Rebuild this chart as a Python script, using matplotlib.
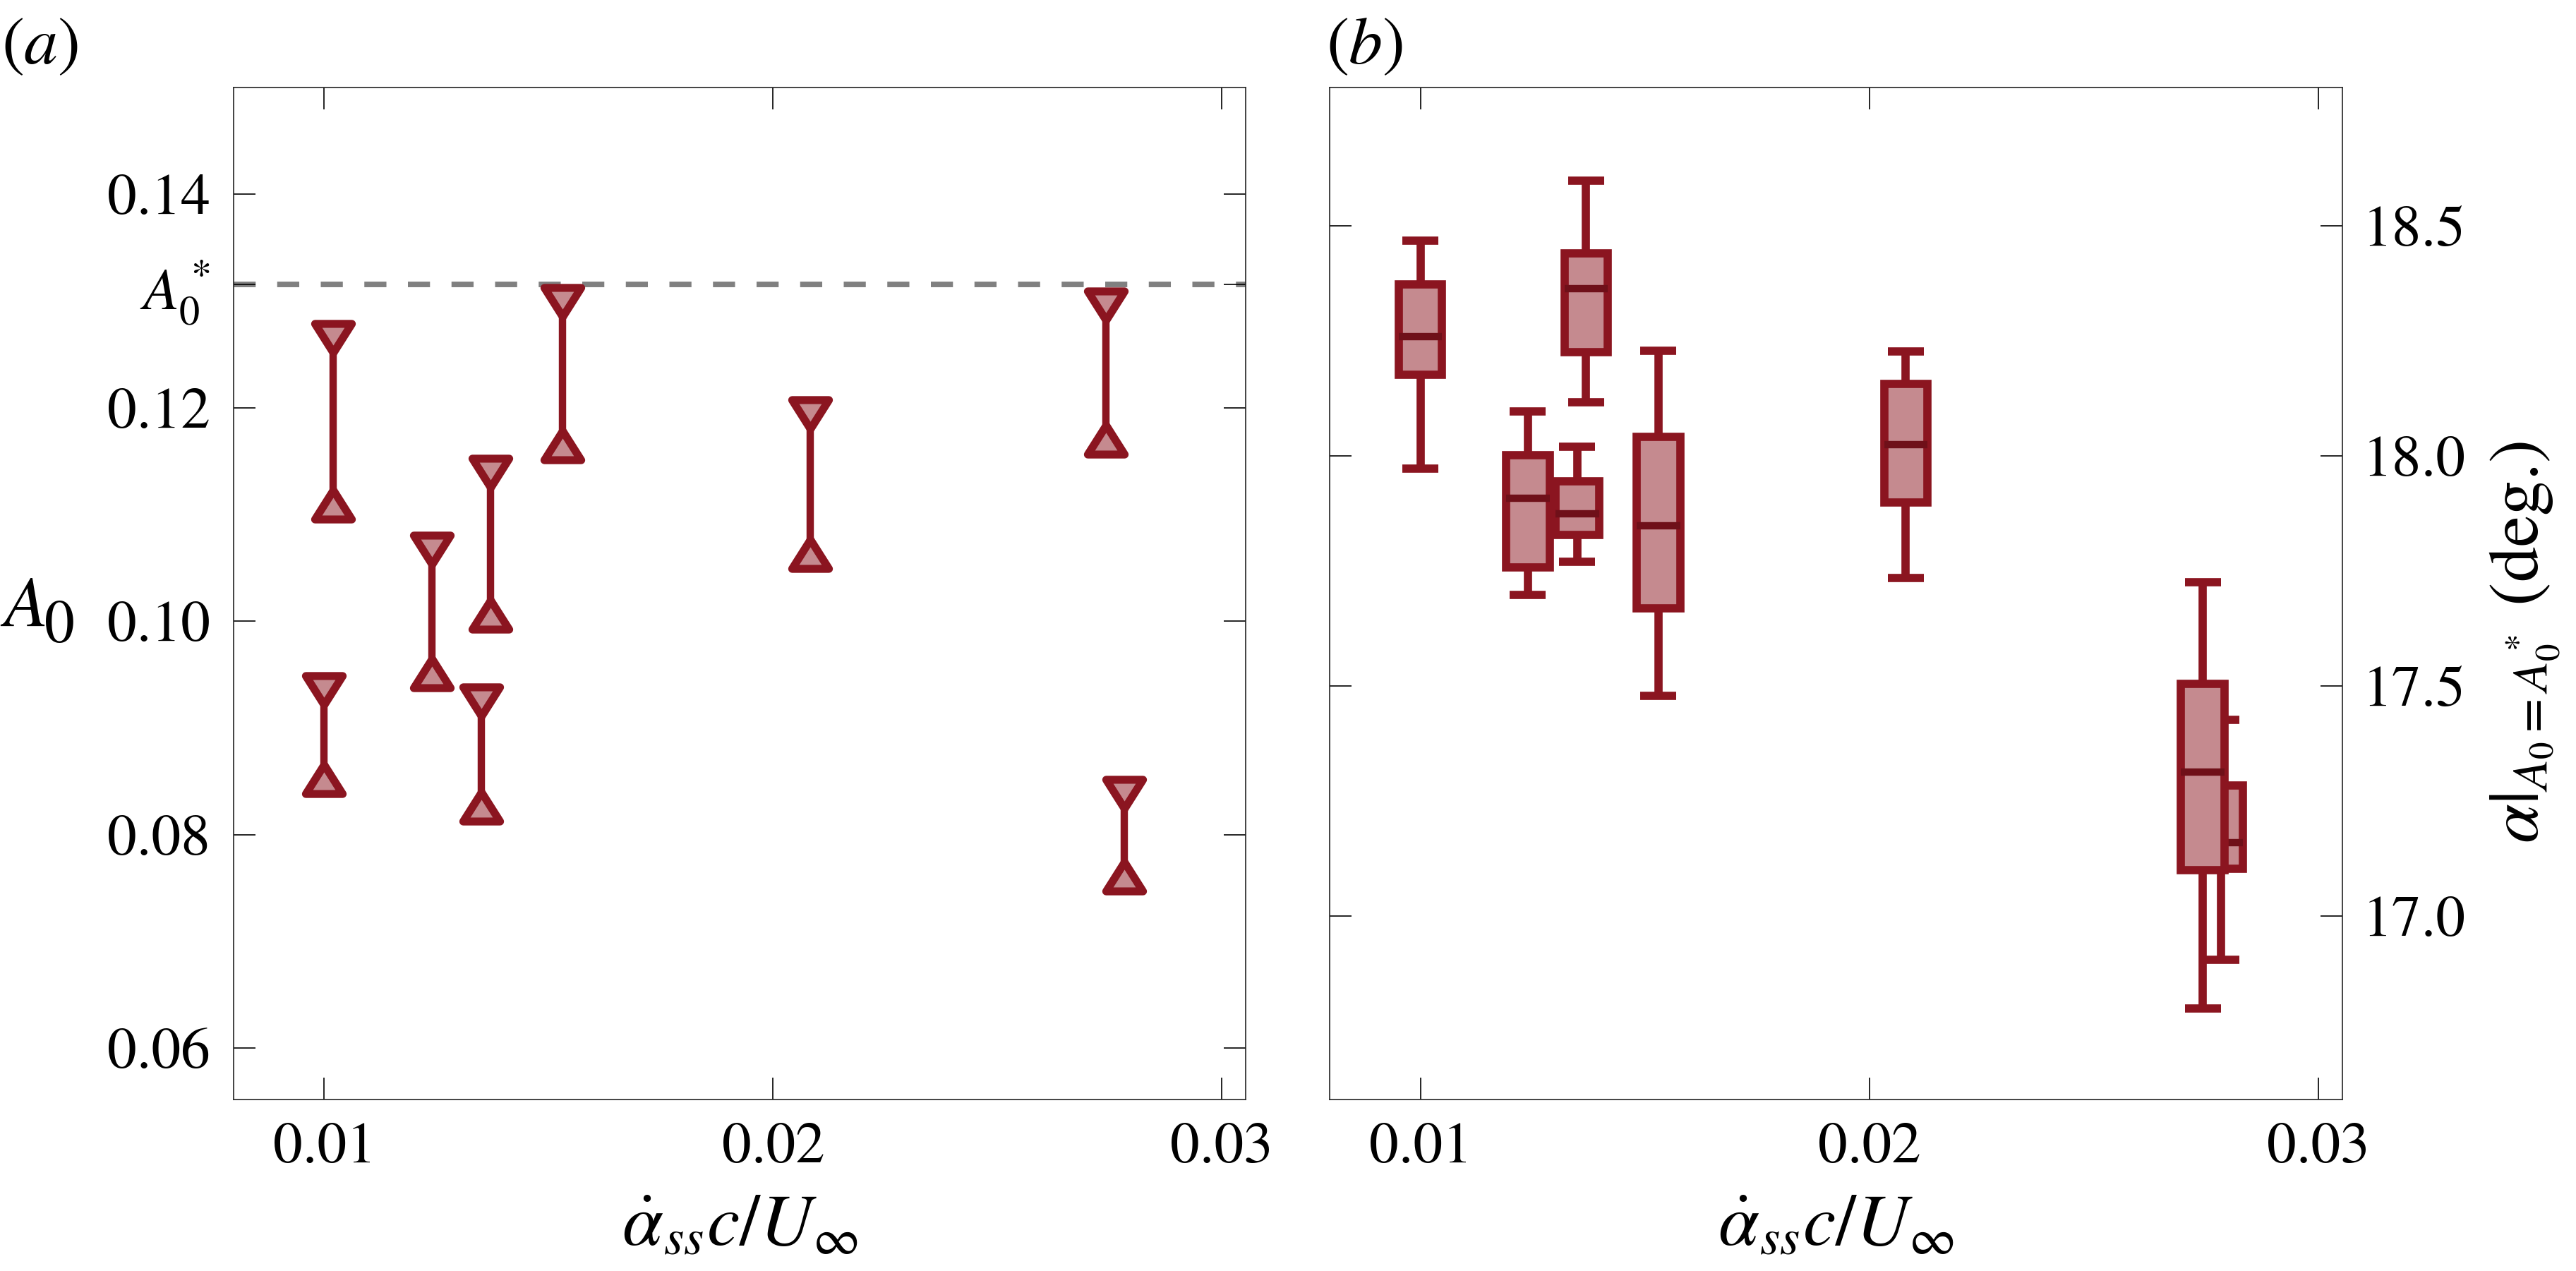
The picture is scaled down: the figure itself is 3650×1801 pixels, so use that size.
import numpy as np
import matplotlib
matplotlib.use("Agg")
import matplotlib.pyplot as plt
from matplotlib.path import Path
from matplotlib.markers import MarkerStyle

plt.rcParams['font.family'] = ['STIXGeneral', 'Liberation Serif', 'DejaVu Serif']
plt.rcParams['mathtext.fontset'] = 'stix'

# ---------------- data ----------------
# panel (a): A0 range per case
a_x = [0.01020, 0.01000, 0.01240, 0.01370, 0.01350, 0.01531, 0.02082, 0.02742, 0.02782]
a_hi = [0.1265, 0.0935, 0.1067, 0.1139, 0.0925, 0.1299, 0.1194, 0.1296, 0.0838]
a_lo = [0.1109, 0.0852, 0.0951, 0.1006, 0.0826, 0.1165, 0.1063, 0.1170, 0.0761]
A0_star = 0.13155

# panel (b): box statistics (drawing order: last box drawn on top)
b_x = [0.01000, 0.01239, 0.01349, 0.01369, 0.01530, 0.02081, 0.02783, 0.02742]
b_whislo = [17.973, 17.698, 17.770, 18.117, 17.479, 17.735, 16.904, 16.799]
b_q1 = [18.176, 17.758, 17.828, 18.225, 17.668, 17.898, 17.102, 17.100]
b_med = [18.259, 17.908, 17.874, 18.364, 17.848, 18.025, 17.160, 17.313]
b_q3 = [18.373, 18.001, 17.944, 18.440, 18.042, 18.157, 17.283, 17.505]
b_whishi = [18.468, 18.097, 18.020, 18.598, 18.229, 18.227, 17.427, 17.725]

xticks = [0.01, 0.02, 0.03]
xticklabels = ['0.01', '0.02', '0.03']
a_yticks = [0.06, 0.08, 0.10, 0.12, 0.14]
a_yticklabels = ['0.06', '0.08', '0.10', '0.12', '0.14']
b_yticks = [17.0, 17.5, 18.0, 18.5]
b_yticklabels = ['17.0', '17.5', '18.0', '18.5']

# ---------------- style ----------------
EDGE = '#8B1520'
FILL = '#C58A8F'
MED = '#6F1019'
W, H = 3650, 1801
DPI = 300
fig = plt.figure(figsize=(W / DPI, H / DPI), dpi=DPI)

def fx(px):
    return px / W

def fy(py):
    return 1 - py / H

ax_bottom, ax_top = 1558, 124
axa = fig.add_axes([fx(331), fy(ax_bottom), fx(1765 - 331), (ax_bottom - ax_top) / H])
axb = fig.add_axes([fx(1884), fy(ax_bottom), fx(3319 - 1884), (ax_bottom - ax_top) / H])

TICK_FS = 20
LABEL_FS = 25

for ax in (axa, axb):
    for s in ax.spines.values():
        s.set_linewidth(0.4)
        s.set_color('#222222')
    ax.tick_params(which='both', direction='in', length=7.4, width=0.4,
                   top=True, bottom=True, left=True, right=True,
                   labelsize=TICK_FS, pad=8)
    ax.set_xlim(0.00798, 0.03053)
    ax.set_xticks(xticks)
    ax.set_xticklabels(xticklabels)

# ---------- panel (a) ----------
down = Path([(-1, 0.79), (1, 0.79), (0, -0.79), (-1, 0.79)],
            [Path.MOVETO, Path.LINETO, Path.LINETO, Path.CLOSEPOLY])
up = Path([(-1, -0.79), (1, -0.79), (0, 0.79), (-1, -0.79)],
          [Path.MOVETO, Path.LINETO, Path.LINETO, Path.CLOSEPOLY])
m_down = MarkerStyle(down, joinstyle='miter')
m_up = MarkerStyle(up, joinstyle='miter')

axa.axhline(A0_star, color='#808080', lw=1.9, linestyle=(0, (3.95, 3.85)),
            dash_capstyle='butt', zorder=1)
for x, hi, lo in zip(a_x, a_hi, a_lo):
    axa.plot([x, x], [lo, hi], color=EDGE, lw=2.5, solid_capstyle='butt', zorder=2)
axa.plot(a_x, a_hi, linestyle='none', marker=m_down, ms=12.5, mew=2.7,
         mfc=FILL, mec=EDGE, zorder=3)
axa.plot(a_x, a_lo, linestyle='none', marker=m_up, ms=12.5, mew=2.7,
         mfc=FILL, mec=EDGE, zorder=3)

axa.set_ylim(0.05517, 0.15001)
axa.set_yticks(a_yticks + [A0_star])
axa.set_yticklabels(a_yticklabels + [r'$A_0^*$'])
axa.tick_params(axis='y', labelleft=True, labelright=False)
axa.set_xlabel(r'$\dot{\alpha}_{ss}c/U_{\infty}$', fontsize=LABEL_FS, labelpad=6.5)

# y-label A_0 (A italic + subscript 0)
fig.text(fx(5), fy(887), 'A', fontsize=24.3, fontstyle='italic', ha='left', va='baseline')
fig.text(fx(63), fy(910), '0', fontsize=20.6, ha='left', va='baseline')

# ---------- panel (b) ----------
for i in range(len(b_x)):
    st = [dict(med=b_med[i], q1=b_q1[i], q3=b_q3[i],
               whislo=b_whislo[i], whishi=b_whishi[i], fliers=[])]
    axb.bxp(st, positions=[b_x[i]], widths=0.00097, capwidths=0.0008,
            patch_artist=True, showfliers=False, manage_ticks=False,
            zorder=2 + 0.3 * i,
            boxprops=dict(facecolor=FILL, edgecolor=EDGE, linewidth=2.8),
            whiskerprops=dict(color=EDGE, linewidth=2.8, solid_capstyle='butt'),
            capprops=dict(color=EDGE, linewidth=2.8, solid_capstyle='butt'),
            medianprops=dict(color=MED, linewidth=2.5, solid_capstyle='butt'))

axb.set_ylim(16.601, 18.8006)
axb.set_yticks(b_yticks)
axb.set_yticklabels(b_yticklabels)
axb.tick_params(axis='y', labelleft=False, labelright=True, pad=7)
axb.set_xlabel(r'$\dot{\alpha}_{ss}c/U_{\infty}$', fontsize=LABEL_FS, labelpad=6.5)

# right-hand y-label of panel (b)
fig.text(fx(3578), fy(910), r'$\alpha|_{A_0=A_0^*}$ (deg.)', fontsize=24,
         rotation=90, ha='center', va='center')

# panel labels
fig.text(fx(2), fy(90), r'$(a)$', fontsize=23, ha='left', va='baseline')
fig.text(fx(1879), fy(90), r'$(b)$', fontsize=23, ha='left', va='baseline')

fig.savefig('out.png', dpi=DPI)
